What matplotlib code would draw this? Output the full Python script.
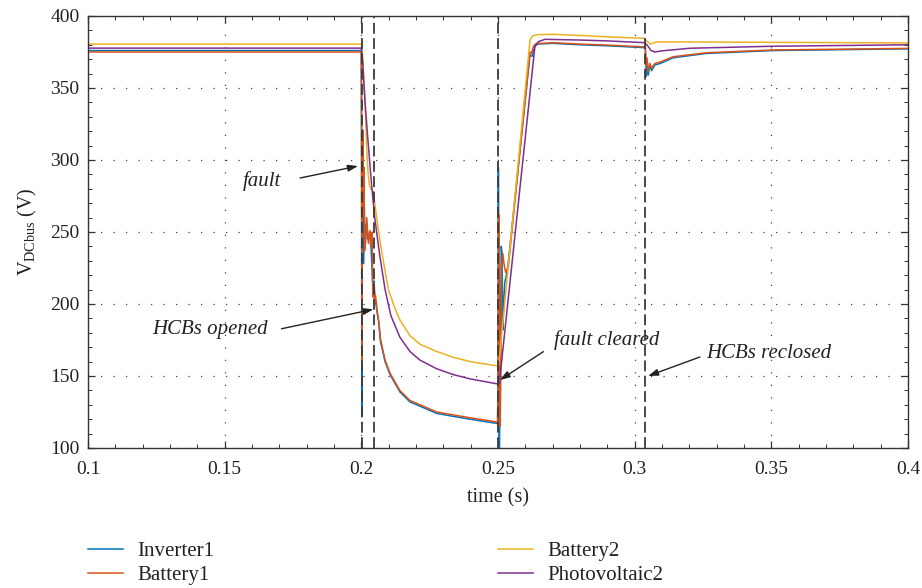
import matplotlib
matplotlib.use("Agg")
import matplotlib.pyplot as plt
from matplotlib.ticker import MultipleLocator, FixedLocator

plt.rcParams['font.family'] = ['Liberation Serif', 'DejaVu Serif']
plt.rcParams['mathtext.fontset'] = 'custom'
plt.rcParams['mathtext.rm'] = 'Liberation Serif'

# ---------------- data ----------------
inv1_t = [0.100, 0.2000, 0.2001, 0.2002, 0.2003, 0.2005, 0.2008, 0.2011, 0.2014, 0.2018,
          0.2024, 0.2030, 0.2036, 0.2042, 0.2046, 0.2050, 0.2058, 0.2064, 0.2070, 0.2087,
          0.2105, 0.2141, 0.2178, 0.2215, 0.2276, 0.2336, 0.2398, 0.2498, 0.2500, 0.25015,
          0.2503, 0.2505, 0.2508, 0.2512, 0.2515, 0.2518, 0.2521, 0.2525, 0.2535, 0.2617,
          0.2625, 0.2635, 0.2645, 0.2700, 0.2800, 0.2900, 0.3039, 0.3043, 0.3047, 0.3050,
          0.3056, 0.3062, 0.3074, 0.3093, 0.3141, 0.3263, 0.3506, 0.4000]
inv1_v = [376.0, 376.0, 300, 122, 200, 321, 228, 267, 240, 255,
          245, 250, 238, 212, 216, 205, 194, 187, 174, 160,
          151, 139, 132, 129, 124, 122, 120, 117, 120, 295,
          200, 90, 150, 240, 235, 182, 200, 215, 224, 373,
          372, 379, 380.5, 381, 380, 379.3, 378, 358, 368, 359,
          366, 362, 366, 367, 371, 374, 376, 377.2]

bat1_t = [0.100, 0.2000, 0.2001, 0.2002, 0.2004, 0.2006, 0.2008, 0.2010, 0.2012, 0.2016,
          0.2020, 0.2026, 0.2032, 0.2036, 0.2040, 0.2042, 0.2045, 0.2048, 0.2052, 0.2058,
          0.2064, 0.2070, 0.2087, 0.2105, 0.2141, 0.2178, 0.2215, 0.2276, 0.2336, 0.2398,
          0.2498, 0.2500, 0.25037, 0.2505, 0.2508, 0.2511, 0.2514, 0.2518, 0.2522, 0.2528,
          0.2538, 0.2617, 0.2622, 0.2630, 0.2640, 0.2660, 0.2700, 0.2800, 0.2900, 0.3039,
          0.3042, 0.3044, 0.3050, 0.3056, 0.3062, 0.3074, 0.3093, 0.3141, 0.3263, 0.3506,
          0.4000]
bat1_v = [375.0, 375.0, 330, 160, 300, 320, 260, 295, 237, 244,
          260, 242, 251, 240, 250, 205, 212, 200, 206, 195,
          188, 176, 161, 152, 140, 133, 130, 125, 123, 121,
          118, 140, 262, 200, 115, 160, 228, 235, 228, 222,
          226, 375, 374, 379, 381, 381, 381.5, 380.5, 379.8, 378.5,
          366, 371, 361, 367, 364, 367, 368, 371.7, 374.5, 376.4,
          377.5]

bat2_t = [0.100, 0.2000, 0.2005, 0.2013, 0.2020, 0.2025, 0.2030, 0.2035, 0.2044, 0.2056,
          0.2074, 0.2099, 0.2123, 0.2141, 0.2178, 0.2215, 0.2276, 0.2336, 0.2398, 0.2498,
          0.2503, 0.2617, 0.2622, 0.2626, 0.2640, 0.2700, 0.2800, 0.2900, 0.3035, 0.3045,
          0.3058, 0.3066, 0.3080, 0.3200, 0.3500, 0.4000]
bat2_v = [380.5, 380.5, 372, 342, 307, 290, 282, 280, 278, 260,
          237, 210, 197, 189, 178, 172, 167, 163, 160, 157,
          158, 383, 385, 386, 387, 387.3, 386.5, 385.5, 384.5, 382.5,
          380.5, 381, 382, 382, 381.7, 381.3]

pv2_t = [0.100, 0.2000, 0.2005, 0.2013, 0.2025, 0.2037, 0.2049, 0.2068, 0.2087, 0.2108,
         0.2141, 0.2178, 0.2215, 0.2276, 0.2336, 0.2398, 0.2498, 0.2505, 0.2635, 0.2648,
         0.2672, 0.2800, 0.2900, 0.3035, 0.3045, 0.3060, 0.3074, 0.3100, 0.3202, 0.3506,
         0.4000]
pv2_v = [377.7, 377.7, 368, 342, 312, 284, 260, 233, 210, 192,
         177, 167, 161, 155, 151, 148, 144.5, 145, 378.7, 382.2,
         383.8, 383.3, 382.7, 381.5, 380, 376, 375, 375.8, 377.6, 379,
         380]

event_times = [0.2001, 0.2045, 0.2500, 0.3039]
x_ticks = [0.1, 0.15, 0.2, 0.25, 0.3, 0.35, 0.4]
x_ticklabels = ["0.1", "0.15", "0.2", "0.25", "0.3", "0.35", "0.4"]
y_ticks = [100, 150, 200, 250, 300, 350, 400]

# ---------------- figure ----------------
fig = plt.figure(figsize=(9.22, 5.88), dpi=100)
ax = fig.add_axes([0.0954, 0.2381, 0.8894, 0.7347])

c_blue, c_red, c_yel, c_pur = '#0072BD', '#D95319', '#EDB120', '#7E2F8E'
lw = 1.1
ax.plot(inv1_t, inv1_v, color=c_blue, lw=lw, label='Inverter1')
ax.plot(bat1_t, bat1_v, color=c_red, lw=lw, label='Battery1')
ax.plot(bat2_t, bat2_v, color=c_yel, lw=lw, label='Battery2')
ax.plot(pv2_t, pv2_v, color=c_pur, lw=lw, label='Photovoltaic2')

for t in event_times:
    ax.axvline(t, color='#3a3a3a', lw=1.3, ls=(0, (6, 2.5)), zorder=5)

ax.set_xlim(0.1, 0.4)
ax.set_ylim(100, 400)
ax.xaxis.set_major_locator(FixedLocator(x_ticks))
ax.set_xticklabels(x_ticklabels)
ax.yaxis.set_major_locator(FixedLocator(y_ticks))
ax.xaxis.set_minor_locator(MultipleLocator(0.01))
ax.yaxis.set_minor_locator(MultipleLocator(10))
ax.tick_params(which='both', direction='in', top=True, right=True, colors='#333333',
               labelcolor='#222222', labelsize=14)
ax.tick_params(axis='x', which='major', pad=9.5)
ax.tick_params(axis='y', which='major', pad=6)
ax.tick_params(which='major', length=5, width=0.9)
ax.tick_params(which='minor', length=2.8, width=0.7)
for s in ax.spines.values():
    s.set_color('#333333')
    s.set_linewidth(1.0)

ax.grid(True, which='major', color='#444444', lw=0.9, ls=(0, (1, 9)))

ax.set_xlabel('time (s)', fontsize=14.5, color='#222222', labelpad=7)
ax.set_ylabel(r'V$_{\mathrm{DCbus}}$ (V)', fontsize=14.5, color='#222222', labelpad=8)

ann_kw = dict(arrowprops=dict(arrowstyle='-|>,head_length=0.6,head_width=0.2',
                              color='#222222', lw=1.0, shrinkA=0, shrinkB=0))
txt_kw = dict(fontsize=15, style='italic', color='#222222', ha='center', va='center')
ax.annotate('', xy=(0.1988, 295.8), xytext=(0.1776, 287.5), **ann_kw)
ax.text(0.1637, 285.4, 'fault', **txt_kw)
ax.annotate('', xy=(0.2044, 196.3), xytext=(0.1708, 182.8), **ann_kw)
ax.text(0.1446, 182.6, 'HCBs opened', **txt_kw)
ax.annotate('', xy=(0.2507, 147.2), xytext=(0.2666, 166.9), **ann_kw)
ax.text(0.2899, 175.0, 'fault cleared', **txt_kw)
ax.annotate('', xy=(0.3049, 150.0), xytext=(0.3239, 163.2), **ann_kw)
ax.text(0.3492, 165.3, 'HCBs reclosed', **txt_kw)

leg = fig.legend(loc='upper left', bbox_to_anchor=(0.0954, 0.079), ncol=2, frameon=False,
                 fontsize=15, handlelength=1.7, handletextpad=0.67, columnspacing=13.6,
                 borderaxespad=0, borderpad=0, labelspacing=0.2)
for t in leg.get_texts():
    t.set_color('#222222')

fig.savefig('out.png', dpi=100)
